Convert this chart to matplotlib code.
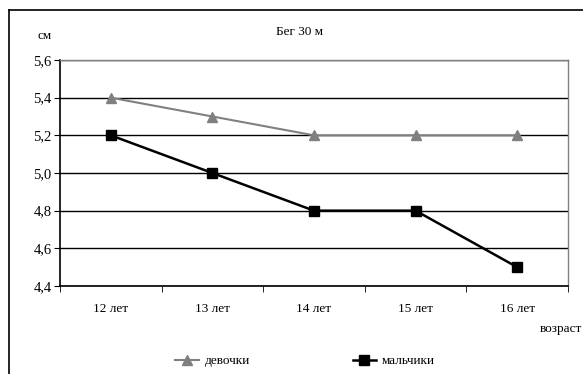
import matplotlib.pyplot as plt
from matplotlib.lines import Line2D
import numpy as np

plt.rcParams['font.family'] = ['Liberation Serif', 'DejaVu Serif']

ages = ["12 лет", "13 лет", "14 лет", "15 лет", "16 лет"]
girls = [5.4, 5.3, 5.2, 5.2, 5.2]
boys = [5.2, 5.0, 4.8, 4.8, 4.5]
yticks = [4.4, 4.6, 4.8, 5.0, 5.2, 5.4, 5.6]

W, H = 583, 374
fig = plt.figure(figsize=(W / 100, H / 100), dpi=100)
ax = fig.add_axes([60 / W, 1 - 286 / H, 508 / W, 226 / H])

x = np.arange(len(ages))
ax.plot(x, girls, color="#808080", lw=1.5, marker="^", ms=7,
        label="девочки", zorder=3)
ax.plot(x, boys, color="black", lw=1.8, marker="s", ms=7,
        label="мальчики", zorder=3)

ax.set_xlim(-0.5, len(ages) - 0.5)
ax.set_ylim(4.4, 5.6)
ax.set_yticks(yticks)
ax.set_yticklabels([f"{v:.1f}".replace(".", ",") for v in yticks], fontsize=10.5)
ax.yaxis.grid(True, color="black", lw=1)
ax.set_axisbelow(True)

# category labels sit between the tick marks
ax.set_xticks(x)
ax.set_xticklabels(ages, fontsize=9.5)
ax.tick_params(axis="x", which="major", length=0, pad=12)
ax.set_xticks(np.arange(-0.5, len(ages)), minor=True)
ax.tick_params(axis="x", which="minor", length=4, direction="out")
ax.tick_params(axis="y", length=4, direction="out", pad=2)

for s in ["left", "bottom"]:
    ax.spines[s].set_color("black")
    ax.spines[s].set_linewidth(1.2)
for s in ["top", "right"]:
    ax.spines[s].set_color("#808080")
    ax.spines[s].set_linewidth(1)

fig.text(45 / W, 1 - 36 / H, "см", fontsize=9.5, ha="center", va="center")
fig.text(300 / W, 1 - 32 / H, "Бег 30 м", fontsize=9.5, ha="center", va="center")
fig.text(582 / W, 1 - 329 / H, "возраст", fontsize=9.5, ha="right", va="center")

fig.legend(loc="center", bbox_to_anchor=(305 / W, 1 - 361 / H), ncol=2,
           frameon=False, fontsize=9.5, handlelength=1.8, handletextpad=0.4,
           columnspacing=7.8, borderaxespad=0)

# outer chart frame
fig.add_artist(Line2D([9 / W, 9 / W], [0, 1 - 10 / H], color="black", lw=1.2,
                      transform=fig.transFigure))
fig.add_artist(Line2D([9 / W, 1], [1 - 10 / H, 1 - 10 / H], color="black", lw=1.2,
                      transform=fig.transFigure))

fig.savefig("out.png", dpi=100)
